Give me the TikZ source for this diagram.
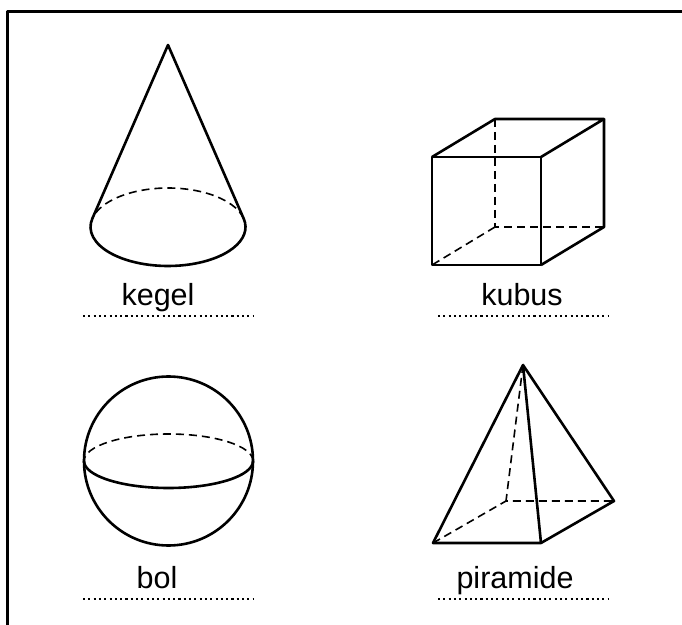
\documentclass[tikz,border=0pt]{standalone}
\usepackage{fontspec}
\setmainfont{Liberation Sans}
\usetikzlibrary{calc}

\begin{document}
\begin{tikzpicture}[x=1pt, y=1pt, line join=round,
		edge/.style={line width=2.6pt},
		hidden/.style={line width=1.6pt, dash pattern=on 8pt off 5pt},
		answer/.style={line width=2.1pt, dash pattern=on 2.1pt off 3.2pt},
		word/.style={anchor=base, font=\fontsize{30.5}{36}\selectfont}]
		\useasboundingbox (0,0) rectangle (682,624);
		
		% Frame
		\draw[line width=2.4pt] (7.5,-5) -- (7.5,612.5) -- (690,612.5);
		
		% Cone
		\coordinate (apex) at (168,579);
		\coordinate (base) at (168,397);
		\draw[edge] (apex) -- ($(base)+(12.37:77.5 and 39)$)
			arc[start angle=12.37, end angle=-192.37, x radius=77.5, y radius=39] -- cycle;
		\draw[hidden] ($(base)+(12.37:77.5 and 39)$)
			arc[start angle=12.37, end angle=167.63, x radius=77.5, y radius=39];
		
		% Cube
		\coordinate (fbl) at (432,359);
		\coordinate (fbr) at (541,359);
		\coordinate (ftr) at (541,467);
		\coordinate (ftl) at (432,467);
		\coordinate (bbl) at (495,397);
		\coordinate (bbr) at (604,397);
		\coordinate (btr) at (604,505);
		\coordinate (btl) at (495,505);
		\draw[hidden] (btl) -- (bbl) -- (bbr);
		\draw[hidden] (bbl) -- (fbl);
		\draw[edge] (fbl) -- (fbr) -- (ftr) -- (ftl) -- cycle;
		\draw[edge] (ftl) -- (btl) -- (btr) -- (ftr);
		\draw[edge] (btr) -- (bbr) -- (fbr);
		
		% Sphere
		\coordinate (mid) at (168.5,163);
		\draw[edge] (mid) circle[radius=84.5];
		\draw[edge] ($(mid)+(-84.5,0)$) arc[start angle=180, end angle=360, x radius=84.5, y radius=27];
		\draw[hidden] ($(mid)+(84.5,0)$) arc[start angle=0, end angle=180, x radius=84.5, y radius=27];
		
		% Pyramid
		\coordinate (top) at (523,259);
		\coordinate (pfl) at (433,81);
		\coordinate (pfr) at (541,81);
		\coordinate (pbr) at (614,123);
		\coordinate (pbl) at (506,123);
		\draw[hidden] (top) -- (pbl);
		\draw[hidden] (pfl) -- (pbl) -- (pbr);
		\draw[edge] (pfl) -- (top) -- (pfr) -- cycle;
		\draw[edge] (top) -- (pbr) -- (pfr);
		
		% Names and answer lines
		\node[word] (kegel) at (158,318) {kegel};
		\node[word] (kubus) at (522,318) {kubus};
		\node[word] (bol) at (157,36) {bol};
		\node[word] (piramide) at (515,36) {piramide};
		\coordinate (k1) at (83,308);
		\coordinate (k2) at (253,308);
		\coordinate (c1) at (438,308);
		\coordinate (c2) at (608,308);
		\coordinate (b1) at (83,25);
		\coordinate (b2) at (253,25);
		\coordinate (p1) at (438,25);
		\coordinate (p2) at (608,25);
		\draw[answer] (k1) -- (k2);
		\draw[answer] (c1) -- (c2);
		\draw[answer] (b1) -- (b2);
		\draw[answer] (p1) -- (p2);
	\end{tikzpicture}
\end{document}
